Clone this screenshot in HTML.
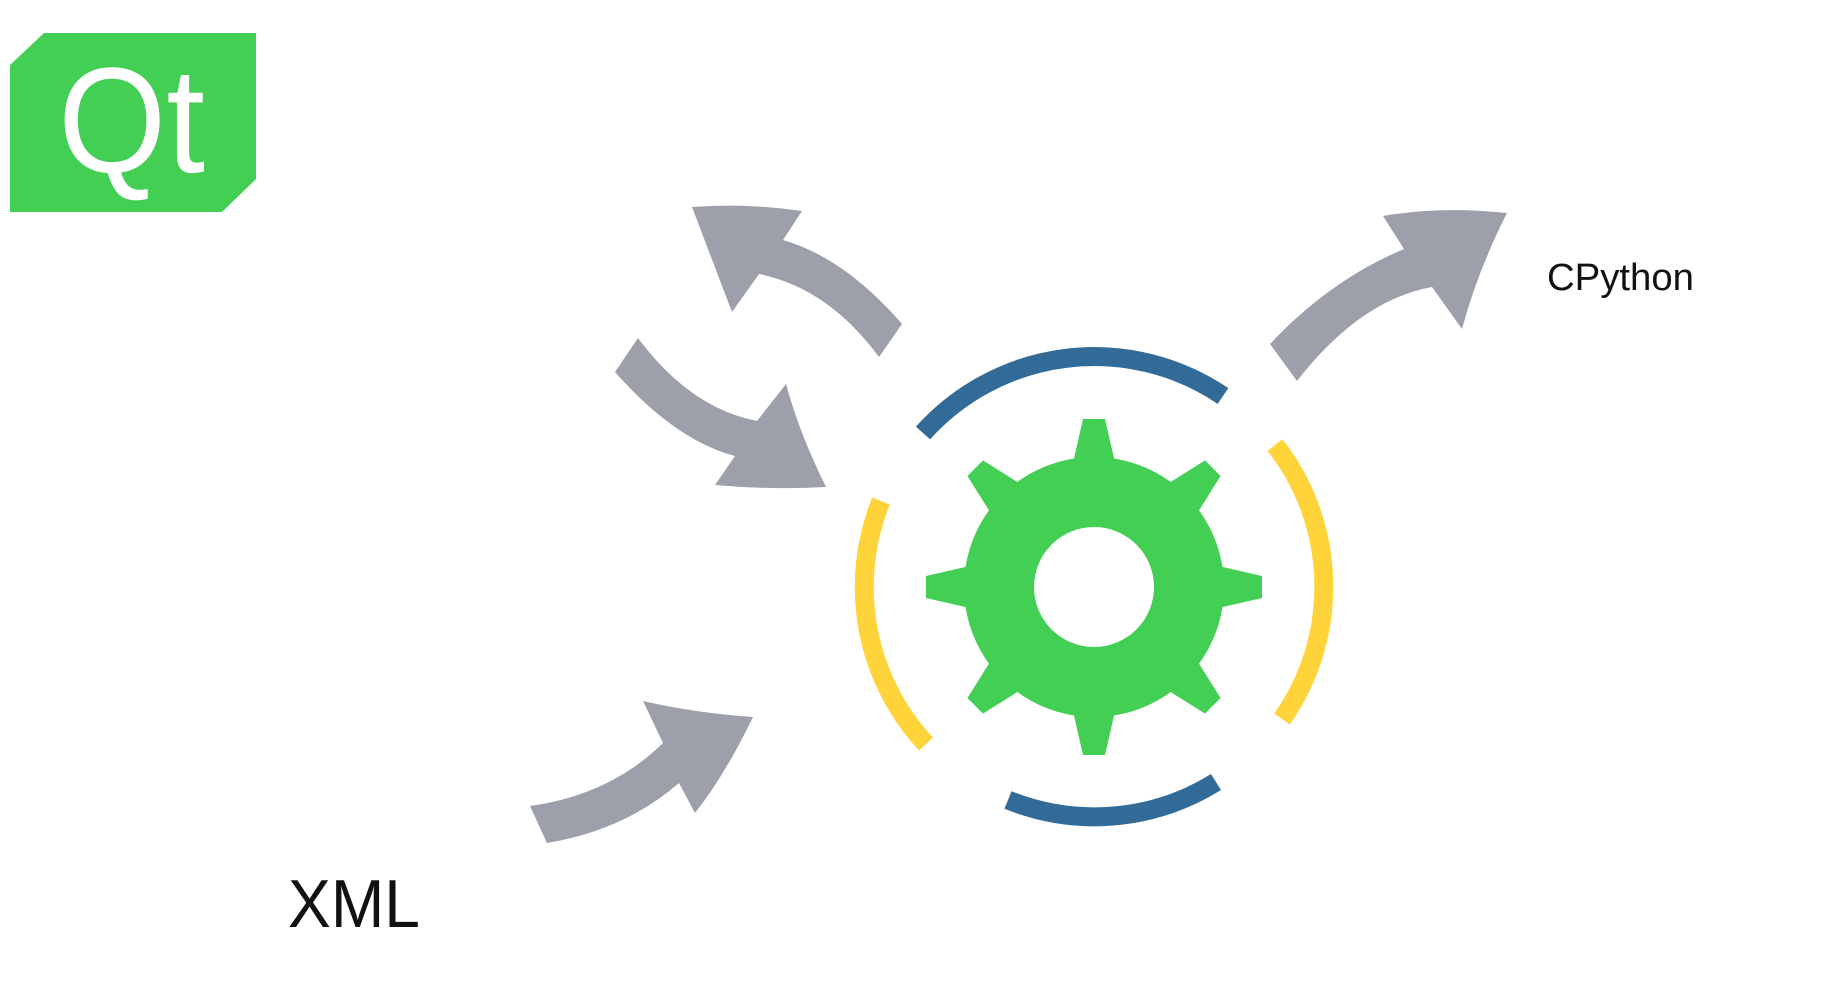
<!DOCTYPE html>
<html><head><meta charset="utf-8"><style>
html,body{margin:0;padding:0;background:#fff;}
svg{display:block;}
</style></head><body>
<svg width="1821" height="998" viewBox="0 0 1821 998" xmlns="http://www.w3.org/2000/svg">
<rect width="1821" height="998" fill="#fff"/>
<polygon points="10,65 44,33 256,33 256,179 222,212 10,212" fill="#43ce54"/>
<text x="58" y="172" font-family="Liberation Sans, sans-serif" font-size="150" fill="#fff" textLength="147" lengthAdjust="spacingAndGlyphs">Qt</text>

<g fill="#9d9faa">
<path d="M732,312 L692,207 Q747,203 802,211 L783,240 Q845,258 902,324 L879,357 Q828,288 759,274 Z"/>
<path d="M615,372 L638,338 Q690,408 757,421 L786,384 Q800,435 826,487 Q770,490 715,485 L735,456 Q675,440 615,372 Z"/>
<path d="M1297,381 L1270,344 Q1330,280 1404,249 L1383,216 Q1440,206 1507,213 Q1478,270 1462,329 L1432,287 Q1360,300 1297,381 Z"/>
<path d="M530,806 Q610,795 663,743 L643,701 Q695,713 753,717 Q725,775 695,813 L679,783 Q625,830 547,843 Z"/>
</g>

<g fill="none" stroke-width="19">
<path d="M923,433 A230,230 0 0 1 1223,396" stroke="#336b98"/>
<path d="M1216,782 A230,230 0 0 1 1008,800" stroke="#336b98"/>
<path d="M926,744 A230,230 0 0 1 881,501" stroke="#ffd43b"/>
<path d="M1275,445 A230,230 0 0 1 1282,719" stroke="#ffd43b"/>
</g>

<g transform="translate(1094,587)" fill="#43ce54">
<circle r="130"/>
<g id="t"><polygon points="-11,-168 11,-168 22,-120 -22,-120"/></g>
<use href="#t" transform="rotate(45)"/>
<use href="#t" transform="rotate(90)"/>
<use href="#t" transform="rotate(135)"/>
<use href="#t" transform="rotate(180)"/>
<use href="#t" transform="rotate(225)"/>
<use href="#t" transform="rotate(270)"/>
<use href="#t" transform="rotate(315)"/>
<circle r="60" fill="#fff"/>
</g>

<text x="1547" y="290" font-family="Liberation Sans, sans-serif" font-size="38" fill="#111" textLength="147" lengthAdjust="spacingAndGlyphs">CPython</text>
<text x="288" y="927" font-family="Liberation Sans, sans-serif" font-size="68" fill="#111" textLength="132" lengthAdjust="spacingAndGlyphs">XML</text>
</svg>
</body></html>
